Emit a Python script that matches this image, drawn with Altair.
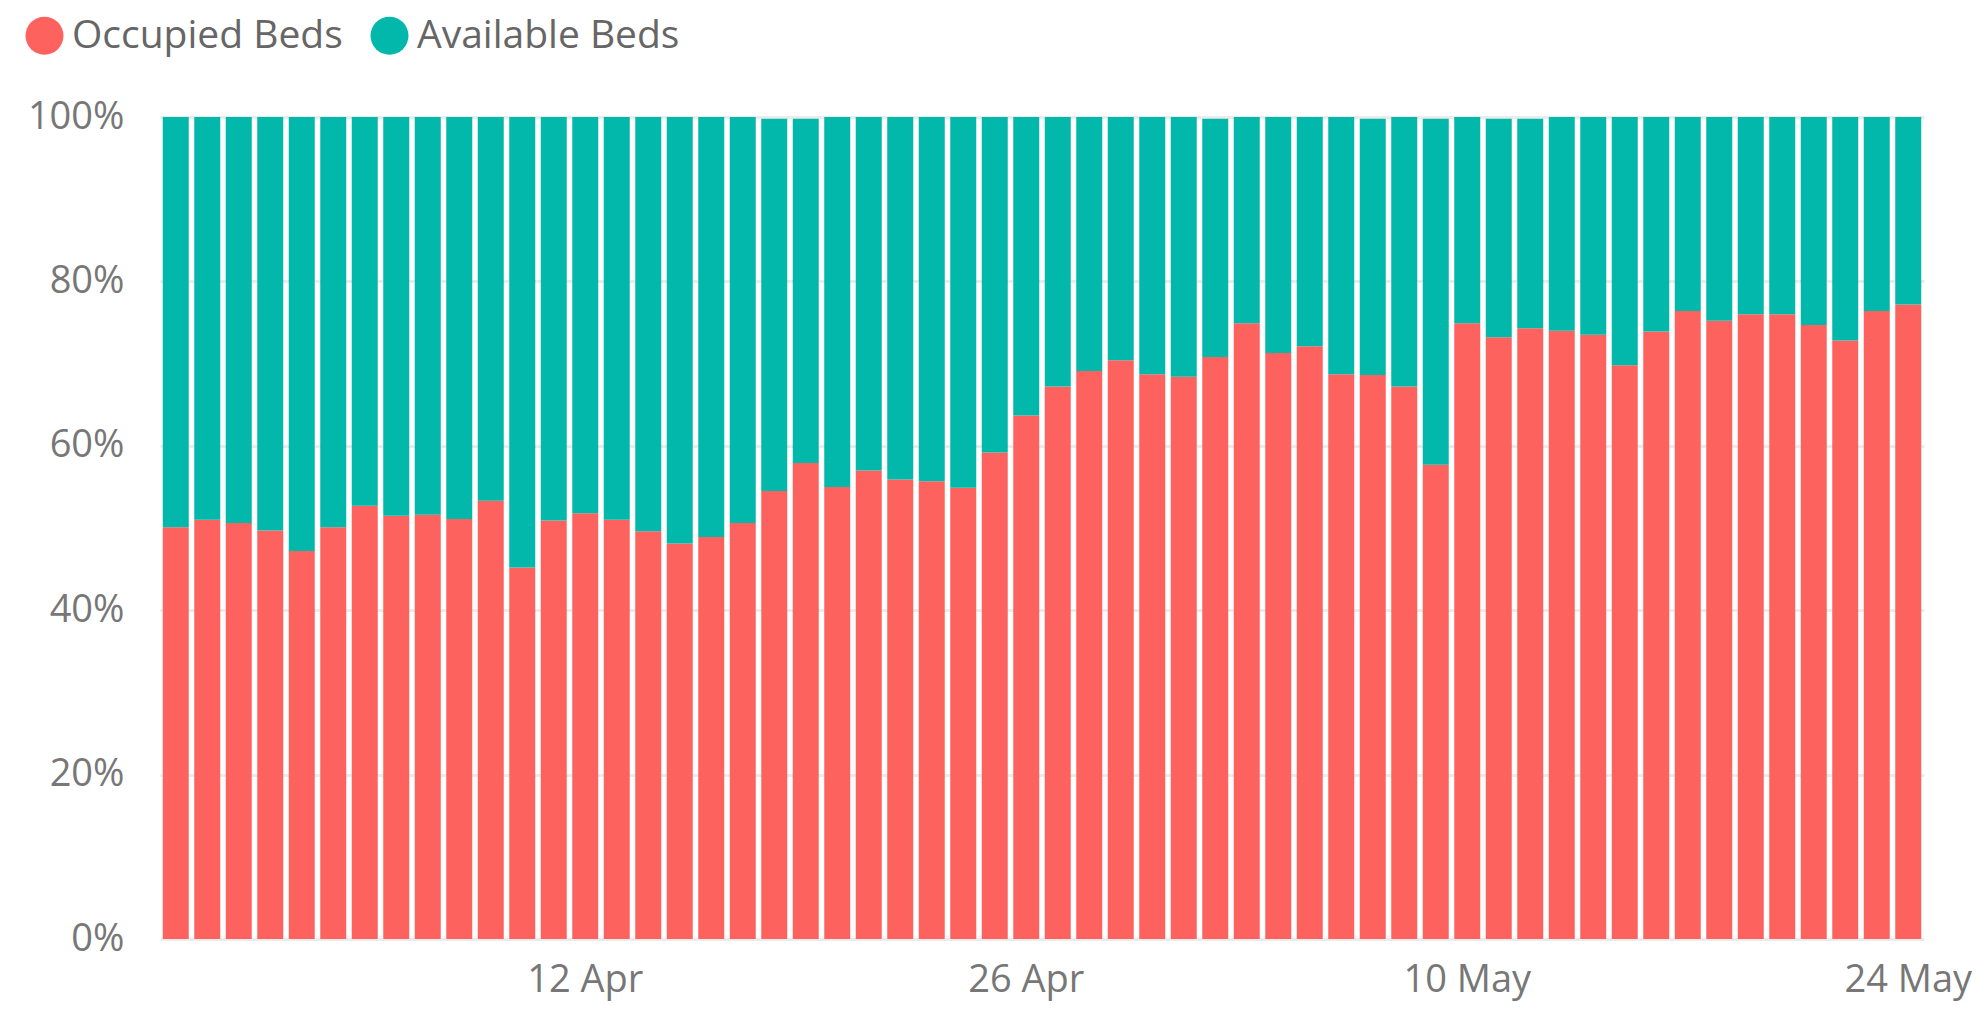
import altair as alt
import pandas as pd

# Categories: one bar per day, 30 Mar .. 24 May
start_date = "2020-03-30"
n_days = 56
days = [f"{d.day} {d.strftime('%b')}" for d in pd.date_range(start_date, periods=n_days, freq="D")]

occupied = [
    50.1, 51.0, 50.6, 49.7, 47.2, 50.1, 52.7, 51.5, 51.6, 51.1,
    53.3, 45.2, 50.9, 51.8, 51.0, 49.6, 48.1, 48.9, 50.6, 54.5,
    57.9, 55.0, 57.0, 55.9, 55.7, 54.9, 59.2, 63.7, 67.2, 69.1,
    70.4, 68.7, 68.4, 70.8, 74.9, 71.3, 72.1, 68.7, 68.6, 67.2,
    57.7, 74.9, 73.2, 74.3, 74.0, 73.5, 69.8, 73.9, 76.4, 75.2,
    76.0, 76.0, 74.7, 72.8, 76.4, 77.2,
]
available = [
    49.9, 49.0, 49.4, 50.3, 52.8, 49.9, 47.3, 48.5, 48.4, 48.9,
    46.7, 54.8, 49.1, 48.2, 49.0, 50.4, 51.9, 51.1, 49.4, 45.3,
    41.9, 45.0, 43.0, 44.1, 44.3, 45.1, 40.8, 36.3, 32.8, 30.9,
    29.6, 31.3, 31.6, 29.0, 25.1, 28.7, 27.9, 31.3, 31.2, 32.8,
    42.1, 25.1, 26.6, 25.5, 26.0, 26.5, 30.2, 26.1, 23.6, 24.8,
    24.0, 24.0, 25.3, 27.2, 23.6, 22.8,
]
series = ["Occupied Beds", "Available Beds"]
colors = ["#FD625E", "#01B8AA"]
x_tick_labels = ["12 Apr", "26 Apr", "10 May", "24 May"]
y_ticks = [0, 20, 40, 60, 80, 100]

rows = []
for i, d in enumerate(days):
    rows.append({"day": d, "series": series[0], "order": 0, "value": occupied[i]})
    rows.append({"day": d, "series": series[1], "order": 1, "value": available[i]})
df = pd.DataFrame(rows)

FONT = "Segoe UI, Open Sans, sans-serif"

chart = alt.Chart(df).mark_bar().encode(
    x=alt.X(
        "day:N",
        sort=days,
        scale=alt.Scale(paddingInner=0.175, paddingOuter=0.0875),
        axis=alt.Axis(
            title=None,
            values=x_tick_labels,
            labelAngle=0,
            ticks=False,
            domain=False,
            grid=False,
            labelFontSize=38,
            labelFont=FONT,
            labelColor="#777777",
            labelPadding=22,
        ),
    ),
    y=alt.Y(
        "value:Q",
        stack="zero",
        scale=alt.Scale(domain=[0, 100], nice=False),
        axis=alt.Axis(
            title=None,
            values=y_ticks,
            labelExpr="datum.value + '%'",
            ticks=False,
            domain=False,
            grid=True,
            gridColor="#EBEBEB",
            gridWidth=3,
            labelFontSize=38,
            labelFont=FONT,
            labelColor="#777777",
            labelPadding=36,
        ),
    ),
    color=alt.Color(
        "series:N",
        scale=alt.Scale(domain=series, range=colors),
        legend=alt.Legend(
            title=None,
            orient="none",
            legendX=-135,
            legendY=-101,
            direction="horizontal",
            symbolType="circle",
            symbolSize=1444,
            symbolStrokeWidth=0,
            labelFontSize=39,
            labelFont=FONT,
            labelColor="#666666",
            labelOffset=8,
            labelLimit=600,
            columnPadding=27,
        ),
    ),
    order=alt.Order("order:Q", sort="ascending"),
).properties(
    width=1764,
    height=822,
    autosize=alt.AutoSizeParams(type="none"),
    padding={"left": 152, "top": 109, "right": 50, "bottom": 68},
).configure_view(stroke=None)

chart.save("out.html", embed_options={"renderer": "svg", "actions": False})
